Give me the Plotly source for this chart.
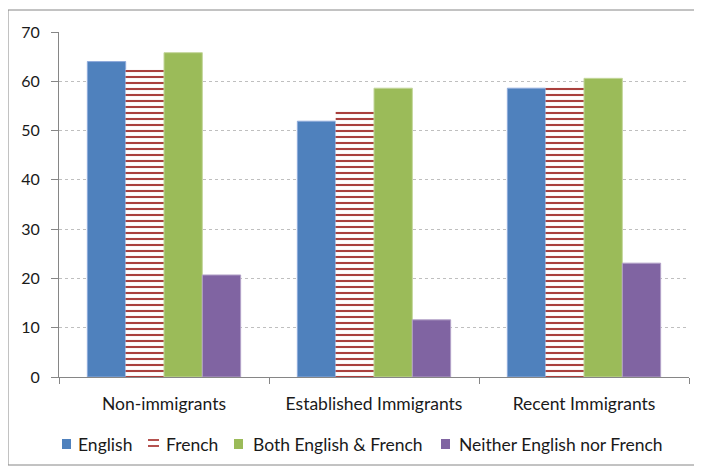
import plotly.graph_objects as go

categories = ["Non-immigrants", "Established Immigrants", "Recent Immigrants"]
english = [64.0, 51.9, 58.6]
french = [62.4, 54.1, 58.9]
both = [65.8, 58.6, 60.6]
neither = [20.7, 11.6, 23.1]
y_ticks = [0, 10, 20, 30, 40, 50, 60, 70]
series_names = ["English", "French", "Both English & French", "Neither English nor French"]
series_colors = ["#4F81BD", "#C0504D", "#9BBB59", "#8064A2"]

FONT = "Lato, Open Sans, sans-serif"
TXT = "#1a1a1a"

fig = go.Figure()
fig.add_bar(name=series_names[0], x=categories, y=english,
            marker=dict(color=series_colors[0], line=dict(color="#8EAADB", width=1)))
fig.add_bar(name=series_names[1], x=categories, y=french,
            marker=dict(color="white", line=dict(color="white", width=0),
                        pattern=dict(shape="-", fgcolor="#A9403D", bgcolor="white",
                                     size=6, solidity=0.35, fillmode="replace")))
fig.add_bar(name=series_names[2], x=categories, y=both,
            marker=dict(color=series_colors[2], line=dict(color="#C3D69B", width=1)))
fig.add_bar(name=series_names[3], x=categories, y=neither,
            marker=dict(color=series_colors[3], line=dict(color="#B2A1C7", width=1)))


# helper: screen pixel -> paper coords (page has an 8px body margin)
def px(sx):
    return (sx - 59) / 630


def py(sy):
    return (377 - sy) / 345


shapes = [dict(type="rect", xref="paper", yref="paper",
               x0=px(8), x1=px(696), y0=py(465), y1=py(10),
               line=dict(color="#868686", width=1), layer="below")]
annotations = []

# custom legend
swatch_x = [62, 148, 234, 441]
text_x = [76, 164, 251, 457]
for i, name in enumerate(series_names):
    if i == 1:
        for ly in (440, 446):
            shapes.append(dict(type="line", xref="paper", yref="paper",
                               x0=px(148), x1=px(159), y0=py(ly), y1=py(ly),
                               line=dict(color="#B5524F", width=2)))
    else:
        shapes.append(dict(type="rect", xref="paper", yref="paper",
                           x0=px(swatch_x[i]), x1=px(swatch_x[i] + 9),
                           y0=py(449), y1=py(439),
                           fillcolor=series_colors[i], line=dict(width=0)))
    annotations.append(dict(xref="paper", yref="paper", x=px(text_x[i]), y=py(444),
                            xanchor="left", yanchor="middle", showarrow=False,
                            text=name, font=dict(family=FONT, size=17.5, color=TXT)))

font = dict(family=FONT, size=17.5, color=TXT)
yfont = dict(family=FONT, size=16, color=TXT)

fig.update_layout(
    width=694, height=460,
    margin=dict(l=51, r=13, t=24, b=91, autoexpand=False),
    paper_bgcolor="white", plot_bgcolor="white",
    barmode="group", bargap=0.27, bargroupgap=0,
    font=font,
    showlegend=False,
    xaxis=dict(type="category", tickson="boundaries", ticks="outside", ticklen=6,
               tickcolor="#868686", showline=True, linecolor="#868686", linewidth=1,
               showgrid=False, tickfont=font, ticklabelstandoff=11),
    yaxis=dict(range=[0, 70], tickvals=y_ticks, ticks="outside", ticklen=7,
               tickcolor="#868686", showline=True, linecolor="#868686", linewidth=1,
               showgrid=True, gridcolor="#BFBFBF", griddash="dot", gridwidth=1,
               zeroline=False, tickfont=yfont, ticklabelstandoff=8),
    shapes=shapes,
    annotations=annotations,
)

fig.write_html("out.html")
